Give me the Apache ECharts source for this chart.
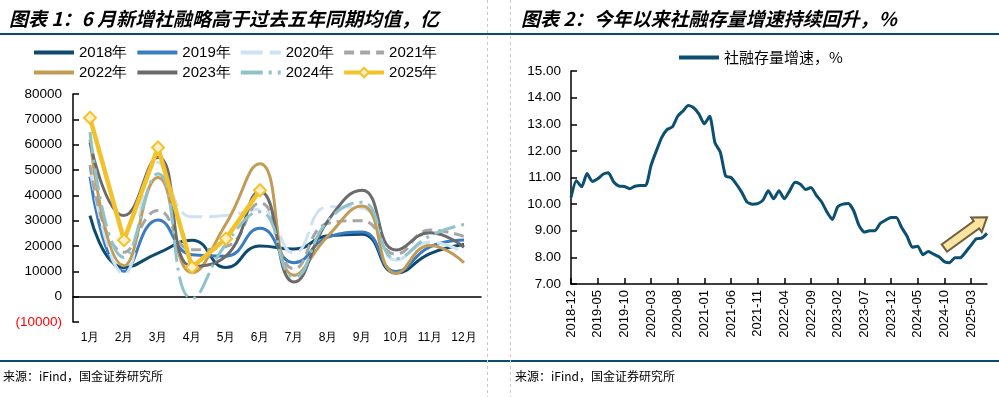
<!DOCTYPE html>
<html>
<head>
<meta charset="utf-8">
<script src="https://cdn.jsdelivr.net/npm/echarts@6/dist/echarts.min.js"></script>
<style>
  html, body { margin: 0; padding: 0; background: #fff; }
  #main { width: 999px; height: 397px; }
</style>
</head>
<body>
<div id="main"></div>
<script>
// 图表1：月度新增社融（亿）
const monthNames = ['1月', '2月', '3月', '4月', '5月', '6月', '7月', '8月', '9月', '10月', '11月', '12月'];
const y2018 = [32000, 11500, 17200, 22300, 11500, 20000, 18800, 24000, 24600, 9300, 17000, 20600];
const y2019 = [47400, 10000, 30300, 16500, 16000, 27000, 13400, 23500, 25500, 9900, 19700, 22400];
const y2020 = [50500, 9000, 53000, 31500, 32000, 34500, 17200, 35500, 35000, 14500, 21500, 17500];
const y2021 = [52000, 17500, 34000, 18500, 19800, 37000, 11000, 29000, 30000, 16800, 26300, 23800];
const y2022 = [62000, 12200, 47000, 9500, 28800, 52500, 8500, 24000, 35800, 9200, 20200, 13400];
const y2023 = [60800, 32000, 55000, 12000, 16000, 41500, 5800, 30000, 42000, 18400, 25200, 19500];
const y2024 = [65000, 15500, 48500, -700, 20800, 33500, 7800, 30000, 37300, 15000, 24000, 28500];
const y2025 = [70600, 22300, 58900, 11600, 22900, 42000];

// 图表2：社融存量增速（%），2018-12 ~ 2025-06
const stockGrowth = [
  10.25, 10.88, 10.65, 11.15, 10.85, 10.95, 11.12, 11.18, 10.83, 10.68, 10.66, 10.58,
  10.67, 10.70, 10.70, 11.45, 12.00, 12.50, 12.80, 12.90, 13.30, 13.50, 13.70, 13.62,
  13.38, 13.02, 13.30, 12.30, 11.95, 11.05, 11.00, 10.75, 10.45, 10.08, 10.00, 10.02,
  10.15, 10.50, 10.20, 10.50, 10.20, 10.50, 10.82, 10.75, 10.55, 10.62, 10.33, 10.08,
  9.70, 9.42, 9.90, 10.00, 10.02, 9.75, 9.20, 8.95, 9.00, 9.00, 9.28, 9.40,
  9.50, 9.50, 9.12, 8.80, 8.38, 8.42, 8.10, 8.22, 8.12, 8.02, 7.84, 7.80,
  7.99, 7.99, 8.20, 8.45, 8.70, 8.72, 8.90
];
const stockMonths = [];
for (let i = 0; i < stockGrowth.length; i++) {
  const t = 2018 * 12 + 11 + i;
  const yy = Math.floor(t / 12), mm = t % 12 + 1;
  stockMonths.push(yy + '-' + (mm < 10 ? '0' + mm : mm));
}

const numFont = 'Liberation Sans, Arial, sans-serif';
const cjkFont = 'Noto Sans CJK SC, sans-serif';

const chart = echarts.init(document.getElementById('main'));

function yearSeries(name, data, color, type) {
  return {
    name: name, type: 'line', data: data,
    xAxisIndex: 0, yAxisIndex: 0,
    smooth: 0.5, symbol: 'none',
    lineStyle: { color: color, width: 3, type: type || 'solid' },
    itemStyle: { color: color }
  };
}

// 无标记的系列，图例里只画线
function lineOnly(name) {
  return { name: name, itemStyle: { opacity: 0 }, lineStyle: { width: 4 } };
}

const staticGraphics = [
  { type: 'line', shape: { x1: 0, y1: 34, x2: 999, y2: 34 }, style: { stroke: '#0b4a72', lineWidth: 2 } },
  { type: 'line', shape: { x1: 0, y1: 361, x2: 999, y2: 361 }, style: { stroke: '#0b4a72', lineWidth: 2 } },
  { type: 'line', shape: { x1: 487.5, y1: 0, x2: 487.5, y2: 397 }, style: { stroke: '#c8c8c8', lineWidth: 1, lineDash: [3, 3] } },
  { type: 'line', shape: { x1: 510.5, y1: 0, x2: 510.5, y2: 397 }, style: { stroke: '#c8c8c8', lineWidth: 1, lineDash: [3, 3] } },
  { type: 'text', left: 3, top: 370, style: { text: '来源：iFind，国金证券研究所', font: '12px ' + cjkFont, fill: '#000' } },
  { type: 'text', left: 515, top: 370, style: { text: '来源：iFind，国金证券研究所', font: '12px ' + cjkFont, fill: '#000' } }
];

const titleStyle = { fontFamily: cjkFont, fontSize: 19, fontWeight: 'bold', fontStyle: 'italic', color: '#000' };
const legendText = { fontFamily: numFont, fontSize: 15, color: '#000', width: 62 };

const option = {
  animation: false,
  backgroundColor: '#fff',
  title: [
    { text: '图表 1：6 月新增社融略高于过去五年同期均值，亿', left: 4, top: 4, textStyle: titleStyle },
    { text: '图表 2：今年以来社融存量增速持续回升，%', left: 516, top: 4, textStyle: titleStyle }
  ],
  legend: [
    {
      data: ['2018年', '2019年', '2020年', '2021年'].map(lineOnly),
      left: 27, top: 40, itemWidth: 40, itemHeight: 12, itemGap: 8, textStyle: legendText
    },
    {
      data: ['2022年', '2023年', '2024年'].map(lineOnly).concat([{ name: '2025年', lineStyle: { width: 4 } }]),
      left: 27, top: 60, itemWidth: 40, itemHeight: 12, itemGap: 8, textStyle: legendText
    },
    {
      data: [lineOnly('社融存量增速，%')],
      left: 672, top: 45, itemWidth: 40, itemHeight: 12,
      textStyle: { fontFamily: cjkFont, fontSize: 15, color: '#000' }
    }
  ],
  grid: [
    { left: 73, top: 94, width: 408, height: 228 },
    { left: 571, top: 71, width: 416, height: 213 }
  ],
  xAxis: [
    {
      gridIndex: 0, type: 'category', data: monthNames, boundaryGap: true,
      axisLine: { onZero: true, lineStyle: { color: '#000', width: 1.5 } },
      axisTick: { inside: true, length: 6, lineStyle: { color: '#000', width: 1.5 } },
      axisLabel: { margin: 10, fontFamily: numFont, fontSize: 12, color: '#000' }
    },
    {
      gridIndex: 1, type: 'category', data: stockMonths, boundaryGap: false,
      axisLine: { lineStyle: { color: '#000', width: 1.5 } },
      axisTick: { inside: true, length: 6, interval: 4, lineStyle: { color: '#000', width: 1.5 } },
      axisLabel: { interval: 4, rotate: 90, margin: 6, fontFamily: numFont, fontSize: 13, color: '#000' }
    }
  ],
  yAxis: [
    {
      gridIndex: 0, type: 'value', min: -10000, max: 80000, interval: 10000,
      splitLine: { show: false },
      axisLine: { show: true, lineStyle: { color: '#000', width: 1.5 } },
      axisTick: { show: true, inside: true, length: 6, lineStyle: { color: '#000', width: 1.5 } },
      axisLabel: {
        margin: 11, fontFamily: numFont, fontSize: 13.5, color: '#000',
        formatter: function (v) { return v < 0 ? '{neg|(' + (-v) + ')}' : String(v); },
        rich: { neg: { color: '#ff0000', fontFamily: numFont, fontSize: 13.5 } }
      }
    },
    {
      gridIndex: 1, type: 'value', min: 7, max: 15, interval: 1,
      splitLine: { show: false },
      axisLine: { show: true, lineStyle: { color: '#000', width: 1.5 } },
      axisTick: { show: true, inside: true, length: 6, lineStyle: { color: '#000', width: 1.5 } },
      axisLabel: { margin: 10, fontFamily: numFont, fontSize: 13.5, color: '#000', formatter: function (v) { return v.toFixed(2); } }
    }
  ],
  series: [
    yearSeries('2018年', y2018, '#0d4a6e'),
    yearSeries('2019年', y2019, '#3b7bc0'),
    yearSeries('2020年', y2020, '#cfe2f3', [22, 7]),
    yearSeries('2021年', y2021, '#a6a6a6', [10, 6]),
    yearSeries('2022年', y2022, '#c29b57'),
    yearSeries('2023年', y2023, '#6b6b6b'),
    yearSeries('2024年', y2024, '#8fc3c9', [22, 6, 3, 6]),
    {
      name: '2025年', type: 'line', data: y2025, xAxisIndex: 0, yAxisIndex: 0,
      smooth: false, symbol: 'diamond', symbolSize: 12,
      lineStyle: { color: '#f3c22b', width: 4.5 },
      itemStyle: { color: '#fdf0c6', borderColor: '#f3c22b', borderWidth: 2 }
    },
    {
      name: '社融存量增速，%', type: 'line', data: stockGrowth, xAxisIndex: 1, yAxisIndex: 1,
      smooth: 0.2, symbol: 'none',
      lineStyle: { color: '#0c4f70', width: 3 },
      itemStyle: { color: '#0c4f70' }
    }
  ],
  graphic: staticGraphics
};

chart.setOption(option);

// 上升箭头标注
const a0 = chart.convertToPixel({ gridIndex: 1 }, [69.6, 8.35]);
const a1 = chart.convertToPixel({ gridIndex: 1 }, [77.9, 9.51]);
const dx = a1[0] - a0[0], dy = a1[1] - a0[1];
const len = Math.sqrt(dx * dx + dy * dy);
const ux = dx / len, uy = dy / len, nx = -uy, ny = ux;
const sw = 4.5, hw = 9, hl = 13;
const bx = a1[0] - ux * hl, by = a1[1] - uy * hl;
const arrowPts = [
  [a0[0] + nx * sw, a0[1] + ny * sw],
  [bx + nx * sw, by + ny * sw],
  [bx + nx * hw, by + ny * hw],
  [a1[0], a1[1]],
  [bx - nx * hw, by - ny * hw],
  [bx - nx * sw, by - ny * sw],
  [a0[0] - nx * sw, a0[1] - ny * sw]
];
chart.setOption({
  graphic: staticGraphics.concat([{
    type: 'polygon', shape: { points: arrowPts },
    style: { fill: '#fbe3a0', stroke: '#6e6140', lineWidth: 2 }
  }])
});
</script>
</body>
</html>
